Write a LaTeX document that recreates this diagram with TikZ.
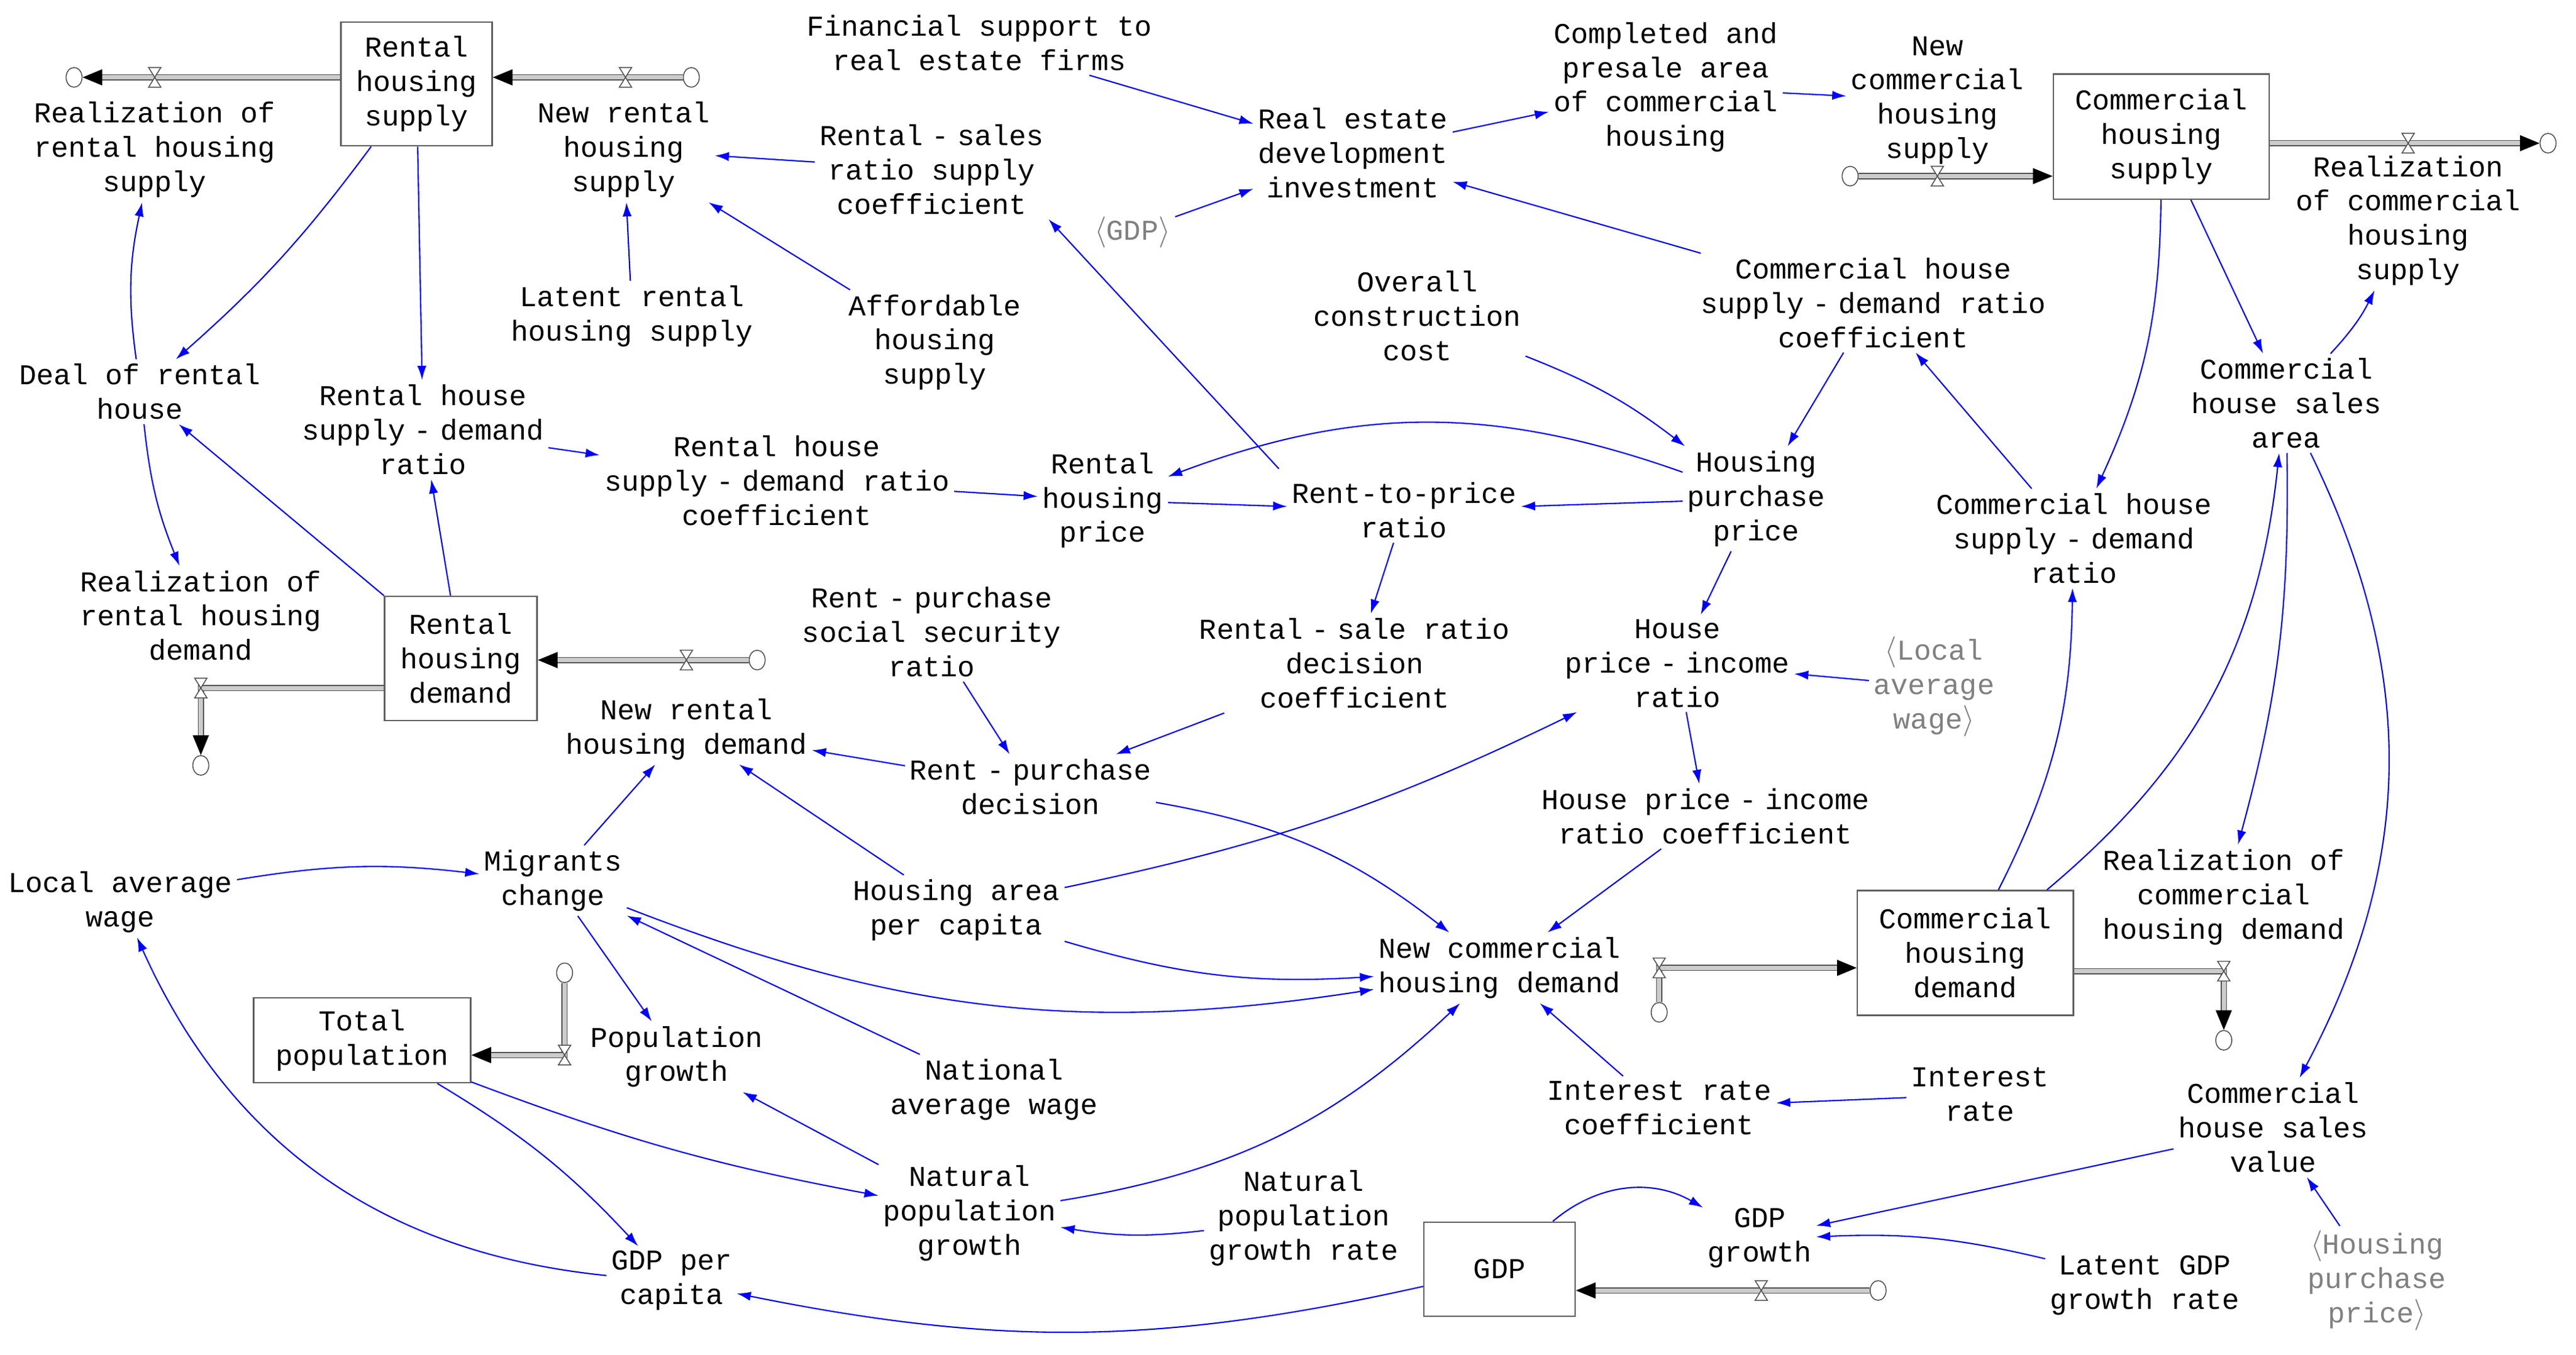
\documentclass[tikz,border=0pt]{standalone}
\usepackage{fontspec}
\newfontfamily\sdfont{Liberation Mono}
\usetikzlibrary{arrows.meta,shapes.geometric}
\newcommand\wdash{\makebox[1.2em]{-}}
\tikzset{
  var/.style={align=center, font=\sdfont\fontsize{13.3}{15.9}\selectfont, inner sep=2pt},
  ghost/.style={var, text=gray},
  stock/.style={var, draw=gray!75!black, line width=0.7pt},
  link/.style={draw=blue, line width=0.6pt, -{Latex[length=2.3mm,width=1.5mm]}},
  pipe/.style={draw=gray!65!black, line width=0.45pt, double=gray!40, double distance=2pt},
  flowtip/.style={-{Triangle[length=3.2mm,width=2.6mm,color=black,fill=black]}},
  sink/.style={ellipse, draw=gray!65!black, fill=white, line width=0.45pt, inner sep=0pt, minimum width=2.6mm, minimum height=3.2mm},
  valve/.pic={\draw[fill=white, draw=gray!65!black, line width=0.45pt] (-1mm,-1.6mm) -- (1mm,-1.6mm) -- (-1mm,1.6mm) -- (1mm,1.6mm) -- cycle;}
}
\begin{document}
\begin{tikzpicture}[x=0.2677mm, y=-0.2677mm]
                \useasboundingbox (0,0) rectangle (1565,823.2);
                \node[stock, minimum width=24.6mm, minimum height=20.1mm] (rhs) at (253,51) {Rental\\housing\\supply};
                \node[stock, minimum width=24.8mm, minimum height=20.2mm] (rhd) at (280,400) {Rental\\housing\\demand};
                \node[stock, minimum width=35.1mm, minimum height=20.3mm] (chs) at (1313,83) {Commercial\\housing\\supply};
                \node[stock, minimum width=35.1mm, minimum height=20.3mm] (chd) at (1194,579) {Commercial\\housing\\demand};
                \node[stock, minimum width=35.3mm, minimum height=13.8mm] (tp) at (220,632) {Total\\population};
                \node[stock, minimum width=24.6mm, minimum height=15.3mm] (gdp) at (911,771) {GDP};
                \node[var] (rrhs) at (94,91) {Realization of\\rental housing\\supply};
                \node[var] (nrhs) at (379,91) {New rental\\housing\\supply};
                \node[var] (deal) at (85,238) {Deal of rental\\house};
                \node[var] (rsdr) at (257,261) {Rental house\\supply\wdash demand\\ratio};
                \node[var] (lrhs) at (384,192) {Latent rental\\housing supply};
                \node[var] (ahs) at (568,208) {Affordable\\housing\\supply};
                \node[var] (rssc) at (566,103) {Rental\wdash sales\\ratio supply\\coefficient};
                \node[var] (fin) at (595,26) {Financial support to\\real estate firms};
                \node[var] (redi) at (822,93) {Real estate\\development\\investment};
                \node[ghost] (gdpS) at (688,141) {$\langle$GDP$\rangle$};
                \node[var] (cpa) at (1012,53) {Completed and\\presale area\\of commercial\\housing};
                \node[var] (nchs) at (1177,61) {New\\commercial\\housing\\supply};
                \node[var] (rchs) at (1463,134) {Realization\\of commercial\\housing\\supply};
                \node[var] (occ) at (861,192) {Overall\\construction\\cost};
                \node[var] (csdc) at (1138,184) {Commercial house\\supply\wdash demand ratio\\coefficient};
                \node[var] (csa) at (1389,245) {Commercial\\house sales\\area};
                \node[var] (rsdc) at (472,292) {Rental house\\supply\wdash demand ratio\\coefficient};
                \node[var] (rhp) at (670,304) {Rental\\housing\\price};
                \node[var] (rtp) at (853,310) {Rent-to-price\\ratio};
                \node[var] (hpp) at (1067,303) {Housing\\purchase\\price};
                \node[var] (csdr) at (1260,327) {Commercial house\\supply\wdash demand\\ratio};
                \node[var] (rrhd) at (122,374) {Realization of\\rental housing\\demand};
                \node[var] (rpss) at (566,384) {Rent\wdash purchase\\social security\\ratio};
                \node[var] (rsdec) at (823,403) {Rental\wdash sale ratio\\decision\\coefficient};
                \node[var] (pir) at (1019,403) {House\\price\wdash income\\ratio};
                \node[ghost] (lawS) at (1175,417) {$\langle$Local\\average\\wage$\rangle$};
                \node[var] (nrhd) at (417,443) {New rental\\housing demand};
                \node[var] (rpd) at (626,478) {Rent\wdash purchase\\decision};
                \node[var] (pirc) at (1036,496) {House price\wdash income\\ratio coefficient};
                \node[var] (law) at (73,548) {Local average\\wage};
                \node[var] (mig) at (336,535) {Migrants\\change};
                \node[var] (hapc) at (581,553) {Housing area\\per capita};
                \node[var] (rchd) at (1351,545) {Realization of\\commercial\\housing demand};
                \node[var] (nchd) at (911,588) {New commercial\\housing demand};
                \node[var] (pg) at (411,642) {Population\\growth};
                \node[var] (naw) at (604,662) {National\\average wage};
                \node[var] (irc) at (1008,673) {Interest rate\\coefficient};
                \node[var] (ir) at (1203,665) {Interest\\rate};
                \node[var] (csv) at (1381,685) {Commercial\\house sales\\value};
                \node[var] (npg) at (589,737) {Natural\\population\\growth};
                \node[var] (npgr) at (792,740) {Natural\\population\\growth rate};
                \node[var] (gdpg) at (1069,752) {GDP\\growth};
                \node[var] (lgdp) at (1303,781) {Latent GDP\\growth rate};
                \node[ghost] (hppS) at (1444,778) {$\langle$Housing\\purchase\\price$\rangle$};
                \node[var] (gdppc) at (408,778) {GDP per\\capita};
                \node[sink] (c1) at (45,47) {};
                \node[sink] (c2) at (420,47) {};
                \node[sink] (c3) at (1124,107) {};
                \node[sink] (c4) at (1548,87) {};
                \node[sink] (c5) at (460,401) {};
                \node[sink] (c6) at (122,465) {};
                \node[sink] (c7) at (1008,615) {};
                \node[sink] (c8) at (1351,632) {};
                \node[sink] (c9) at (343,591) {};
                \node[sink] (c10) at (1141,784) {};
                \coordinate (v6) at (122,418);
                \coordinate (v7) at (1008,588);
                \coordinate (v8) at (1351,590);
                \coordinate (v9) at (343,641);
                \draw[pipe, flowtip] (rhs.west |- c1) -- (c1);
                \draw[pipe, flowtip] (c2) -- (rhs.east |- c2);
                \draw[pipe, flowtip] (c3) -- (chs.west |- c3);
                \draw[pipe, flowtip] (chs.east |- c4) -- (c4);
                \draw[pipe, flowtip] (c5) -- (rhd.east |- c5);
                \draw[pipe, flowtip] (rhd.west |- v6) -- (v6) -- (c6);
                \draw[pipe, flowtip] (c7) -- (v7) -- (chd.west |- v7);
                \draw[pipe, flowtip] (chd.east |- v8) -- (v8) -- (c8);
                \draw[pipe, flowtip] (c9) -- (v9) -- (tp.east |- v9);
                \draw[pipe, flowtip] (c10) -- (gdp.east |- c10);
                \foreach \p in {(94,47), (380,47), (1177,107), (1463,87), (417,401), (v6), (v7), (v8), (v9), (1070,784)}
                    \pic at \p {valve};
                \draw[link] (rhs) to[bend left=6] (deal);
                \draw[link] (rhs) -- (rsdr);
                \draw[link] (deal) to[bend left=10] (rrhs);
                \draw[link] (deal) to[bend right=8] (rrhd);
                \draw[link] (rhd.north west) -- (deal);
                \draw[link] (rhd) -- (rsdr);
                \draw[link] (rsdr) -- (rsdc);
                \draw[link] (rsdc) -- (rhp);
                \draw[link] (lrhs) -- (nrhs);
                \draw[link] (ahs) -- (nrhs);
                \draw[link] (rssc) -- (nrhs);
                \draw[link] (fin) -- (redi);
                \draw[link] (gdpS) -- (redi);
                \draw[link] (redi) -- (cpa);
                \draw[link] (cpa) -- (nchs);
                \draw[link] (csdc) -- (redi);
                \draw[link, shorten <=2mm] (rtp.north west) -- (rssc.south east);
                \draw[link] (hpp) to[bend right=20] (rhp);
                \draw[link] (occ) to[bend left=8] (hpp);
                \draw[link] (csdc) -- (hpp);
                \draw[link] (csdr) -- (csdc);
                \draw[link] (chs) to[bend left=12] (csdr);
                \draw[link] (chs) -- (csa);
                \draw[link] (csa) to[bend right=8] (rchs);
                \draw[link] (rhp) -- (rtp);
                \draw[link] (hpp) -- (rtp);
                \draw[link] (rtp) -- (rsdec);
                \draw[link] (hpp) -- (pir);
                \draw[link] (lawS) -- (pir);
                \draw[link] (pir) -- (pirc);
                \draw[link] (rpss) -- (rpd);
                \draw[link] (rsdec) -- (rpd);
                \draw[link] (rpd) -- (nrhd);
                \draw[link] (rpd) to[bend left=14] (nchd);
                \draw[link] (hapc) -- (nrhd);
                \draw[link] (hapc) to[bend right=7] (pir);
                \draw[link] (hapc) to[bend right=10] (nchd);
                \draw[link] (pirc) -- (nchd);
                \draw[link] (irc) -- (nchd);
                \draw[link] (ir) -- (irc);
                \draw[link] (mig) -- (nrhd);
                \draw[link] (law) to[bend left=8] (mig);
                \draw[link] (mig) -- (pg);
                \draw[link] (naw) -- (mig);
                \draw[link] (mig) to[bend right=15] (nchd);
                \draw[link] (tp) to[bend right=5] (npg);
                \draw[link] (tp) to[bend left=8] (gdppc);
                \draw[link] (npg) -- (pg);
                \draw[link] (npgr) to[bend left=8] (npg);
                \draw[link] (npg) to[bend right=17] (nchd);
                \draw[link] (gdppc) to[bend left=30] (law);
                \draw[link] (gdp) to[bend left=12] (gdppc);
                \draw[link] (gdp) to[bend left=35] (gdpg);
                \draw[link] (lgdp) to[bend right=8] (gdpg);
                \draw[link] (csv) -- (gdpg);
                \draw[link] (hppS) -- (csv);
                \draw[link] (csa) to[bend left=27] (csv);
                \draw[link] (csa) to[bend left=8] (rchd);
                \draw[link] (chd) to[bend right=22] (csa);
                \draw[link] (chd) to[bend right=13] (csdr);
\end{tikzpicture}
\end{document}
